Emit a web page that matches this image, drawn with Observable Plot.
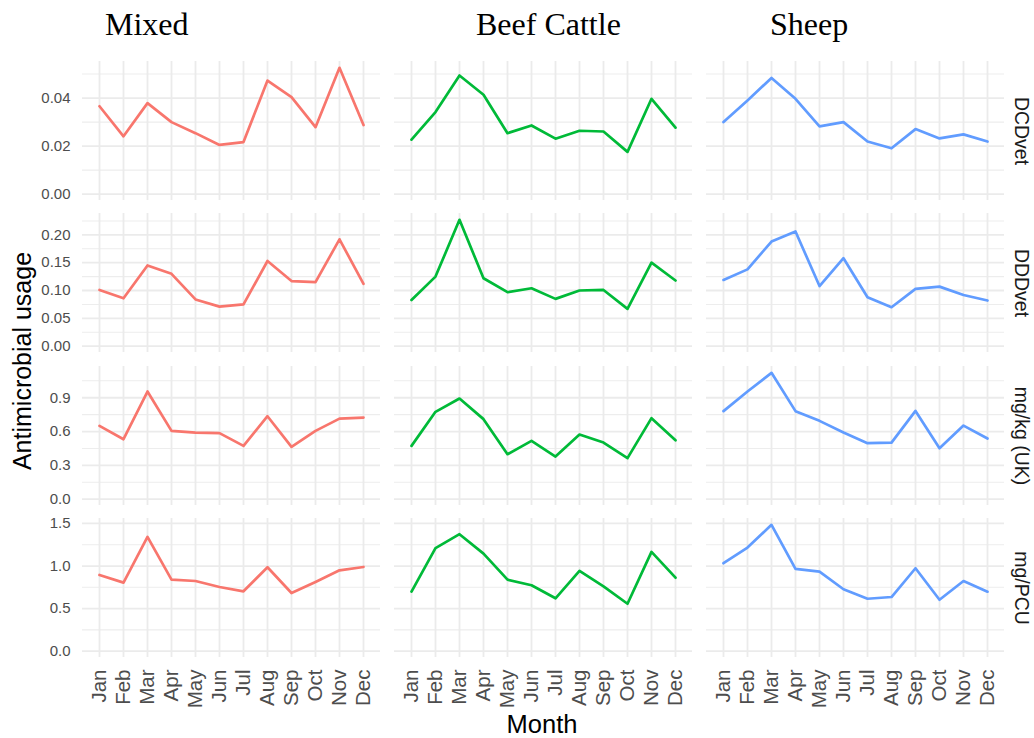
<!DOCTYPE html>
<html>
<head>
<meta charset="utf-8">
<script src="https://cdn.jsdelivr.net/npm/d3@7"></script>
<script src="https://cdn.jsdelivr.net/npm/@observablehq/plot@0.6"></script>
<style>
  body { margin: 0; background: #fff; }
  #wrap { position: relative; width: 1034px; height: 738px; overflow: hidden; font-family: "Liberation Sans", Arial, sans-serif; }
  .row { position: absolute; left: 0; }
  #overlay { position: absolute; left: 0; top: 0; pointer-events: none; }
</style>
</head>
<body>
<div id="wrap"></div>
<script>
// ---------- data ----------
const months = ["Jan","Feb","Mar","Apr","May","Jun","Jul","Aug","Sep","Oct","Nov","Dec"];
const species = ["Mixed","Beef Cattle","Sheep"];
const metrics = ["DCDvet","DDDvet","mg/kg (UK)","mg/PCU"];
const speciesColors = ["#F8766D","#00BA38","#619CFF"];

const dcdvetMixed = [0.0366,0.0241,0.0379,0.0300,0.0254,0.0205,0.0217,0.0473,0.0404,0.0279,0.0526,0.0288];
const dcdvetBeef  = [0.0227,0.0342,0.0494,0.0414,0.0254,0.0286,0.0231,0.0264,0.0261,0.0176,0.0397,0.0277];
const dcdvetSheep = [0.0300,0.0390,0.0484,0.0397,0.0282,0.0300,0.0219,0.0191,0.0271,0.0232,0.0249,0.0219];

const dddvetMixed = [0.101,0.086,0.145,0.130,0.084,0.071,0.075,0.153,0.117,0.115,0.192,0.112];
const dddvetBeef  = [0.083,0.125,0.227,0.122,0.097,0.104,0.085,0.100,0.101,0.067,0.150,0.118];
const dddvetSheep = [0.119,0.138,0.188,0.206,0.108,0.158,0.088,0.070,0.103,0.107,0.092,0.082];

const mgkgMixed = [0.650,0.532,0.955,0.606,0.591,0.586,0.473,0.736,0.464,0.606,0.715,0.724];
const mgkgBeef  = [0.473,0.775,0.893,0.710,0.399,0.517,0.378,0.573,0.502,0.364,0.719,0.523];
const mgkgSheep = [0.781,0.955,1.121,0.781,0.695,0.591,0.497,0.502,0.783,0.452,0.653,0.538];

const mgpcuMixed = [0.895,0.805,1.343,0.840,0.824,0.754,0.703,0.986,0.683,0.813,0.950,0.989];
const mgpcuBeef  = [0.699,1.210,1.374,1.146,0.840,0.774,0.621,0.942,0.762,0.557,1.166,0.863];
const mgpcuSheep = [1.033,1.217,1.484,0.966,0.934,0.727,0.616,0.636,0.974,0.604,0.824,0.699];

const dcdvetTicks = [0, 0.02, 0.04];
const dcdvetMinor = [0.01, 0.03, 0.05];
const dddvetTicks = [0, 0.05, 0.10, 0.15, 0.20];
const dddvetMinor = [0.025, 0.075, 0.125, 0.175, 0.225];
const mgkgTicks = [0, 0.3, 0.6, 0.9];
const mgkgMinor = [0.15, 0.45, 0.75, 1.05];
const mgpcuTicks = [0, 0.5, 1.0, 1.5];
const mgpcuMinor = [0.25, 0.75, 1.25];

// ---------- layout ----------
const FONT = '"Liberation Sans", Arial, sans-serif';
const rowTops = [61, 213, 366, 518];
const panelH = 139;
const wrap = document.getElementById("wrap");

function rowPlot(metric, series, major, minor, fmt, last) {
  const data = species.flatMap((s, i) => series[i].map((v, j) => ({species: s, month: months[j], value: v})));
  const max = d3.max(data, d => d.value);
  const marks = [
    Plot.ruleY(minor, {stroke: "#ededed", strokeWidth: 1.1}),
    Plot.gridY(major, {stroke: "#ebebeb", strokeOpacity: 1, strokeWidth: 1.8}),
    Plot.gridX({stroke: "#ebebeb", strokeOpacity: 1, strokeWidth: 1.8}),
    Plot.line(data, {x: "month", y: "value", fx: "species", stroke: "species", strokeWidth: 2.7}),
    Plot.axisY(major, {tickSize: 0, tickPadding: 12, tickFormat: fmt, fontSize: 15, fill: "#4d4d4d", label: null}),
    Plot.text([{species: "Sheep", label: metric}], {fx: "species", text: "label", frameAnchor: "right", rotate: 90, dx: 17, textAnchor: "middle", lineAnchor: "middle", fontSize: 19.5, fill: "#1a1a1a"})
  ];
  if (last) {
    marks.push(Plot.text(species.flatMap(s => months.map(m => ({species: s, month: m}))), {
      x: "month", fx: "species", text: "month", frameAnchor: "bottom", rotate: -90,
      textAnchor: "end", lineAnchor: "middle", dy: 12, fontSize: 20.5, fill: "#4d4d4d"
    }));
  }
  return Plot.plot({
    width: 1034,
    height: last ? panelH + 81 : panelH,
    marginLeft: 82, marginRight: 30, marginTop: 0, marginBottom: last ? 81 : 0,
    style: {fontFamily: FONT, background: "transparent", overflow: "visible"},
    x: {type: "point", domain: months, padding: 0.6, axis: null},
    y: {domain: [-0.05 * max, 1.05 * max], axis: null},
    fx: {domain: species, paddingInner: 0.045, paddingOuter: 0, axis: null, label: null},
    color: {domain: species, range: speciesColors},
    marks
  });
}

const rows = [
  [metrics[0], [dcdvetMixed, dcdvetBeef, dcdvetSheep], dcdvetTicks, dcdvetMinor, d3.format(".2f")],
  [metrics[1], [dddvetMixed, dddvetBeef, dddvetSheep], dddvetTicks, dddvetMinor, d3.format(".2f")],
  [metrics[2], [mgkgMixed, mgkgBeef, mgkgSheep], mgkgTicks, mgkgMinor, d3.format(".1f")],
  [metrics[3], [mgpcuMixed, mgpcuBeef, mgpcuSheep], mgpcuTicks, mgpcuMinor, d3.format(".1f")]
];

rows.forEach((r, i) => {
  const el = rowPlot(r[0], r[1], r[2], r[3], r[4], i === rows.length - 1);
  const div = document.createElement("div");
  div.className = "row";
  div.style.top = rowTops[i] + "px";
  div.appendChild(el);
  wrap.appendChild(div);
});

// ---------- titles / axis labels ----------
const svg = d3.select(wrap).append("svg")
  .attr("id", "overlay").attr("width", 1034).attr("height", 738);

const colTitleX = [105, 476, 770];
species.forEach((s, i) => {
  svg.append("text")
    .attr("x", colTitleX[i]).attr("y", 35)
    .attr("font-family", '"Liberation Serif", "Times New Roman", serif')
    .attr("font-size", 32).attr("fill", "#000")
    .text(s);
});

svg.append("text")
  .attr("transform", "translate(31,361) rotate(-90)")
  .attr("text-anchor", "middle")
  .attr("font-family", FONT).attr("font-size", 25).attr("fill", "#000")
  .text("Antimicrobial usage");

svg.append("text")
  .attr("x", 542).attr("y", 733)
  .attr("text-anchor", "middle")
  .attr("font-family", FONT).attr("font-size", 25.5).attr("fill", "#000")
  .text("Month");
</script>
</body>
</html>
